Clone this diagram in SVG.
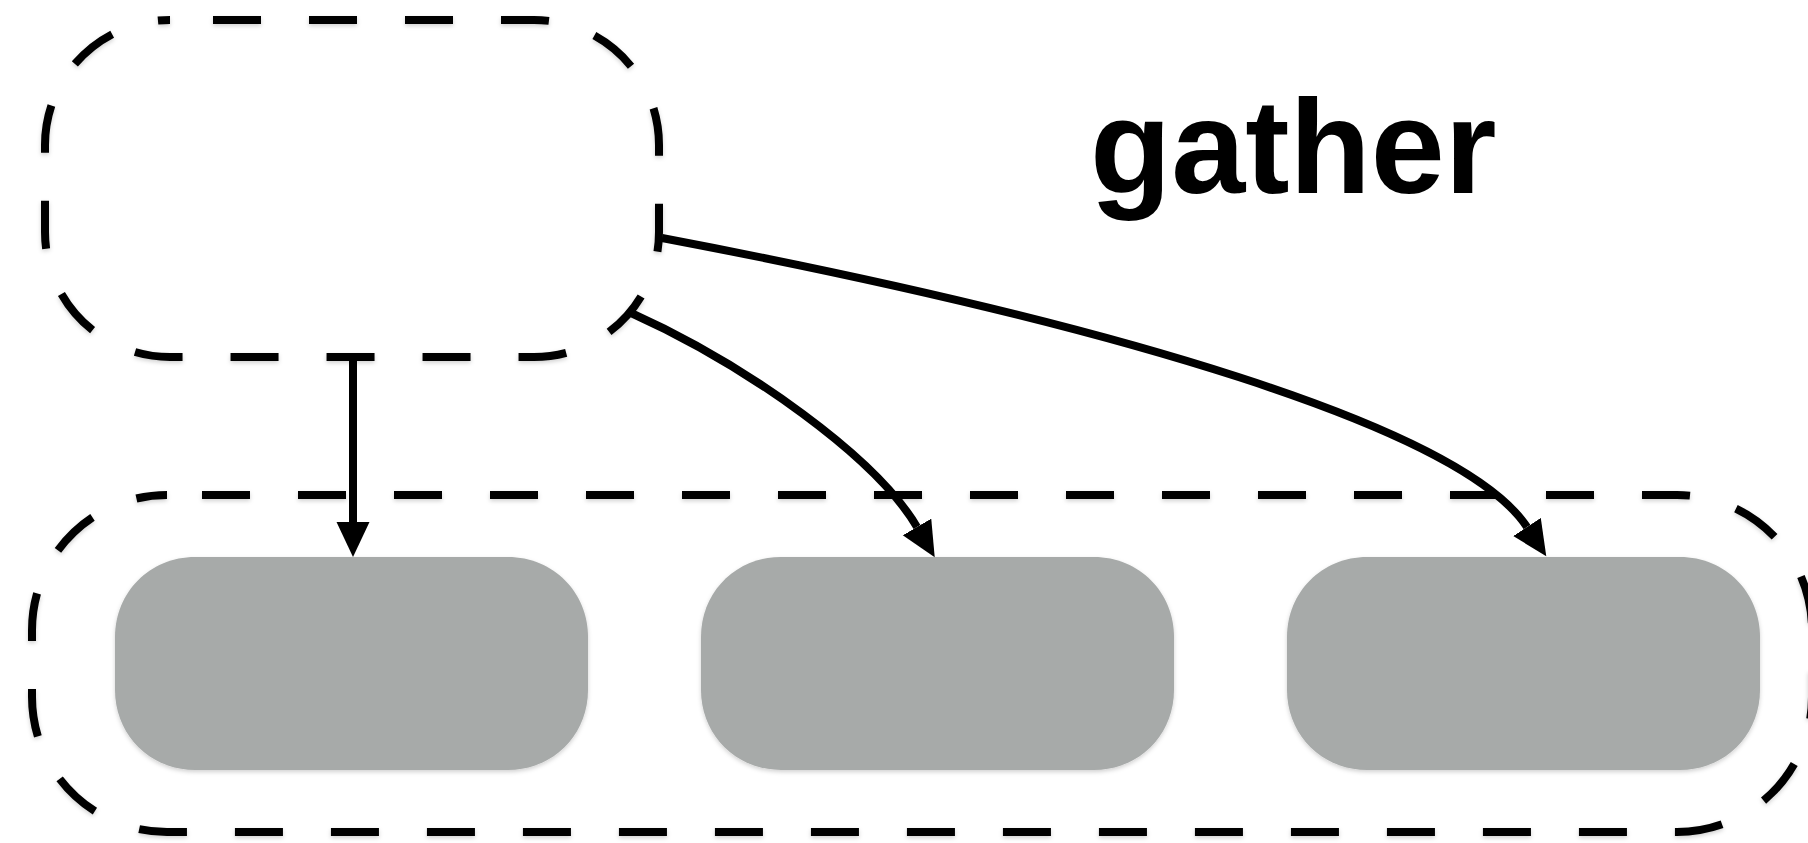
<svg xmlns="http://www.w3.org/2000/svg" width="1808" height="843" viewBox="0 0 1808 843">
  <defs>
    <filter id="shadow" x="-10%" y="-10%" width="120%" height="130%">
      <feDropShadow dx="0" dy="2" stdDeviation="2" flood-color="#000" flood-opacity="0.18"/>
    </filter>
    <marker id="arrow" markerUnits="userSpaceOnUse" markerWidth="36" markerHeight="34" refX="0" refY="16.5" orient="auto" viewBox="0 0 36 34">
      <path d="M0,0 L35,16.5 L0,33 Z" fill="#000"/>
    </marker>
  </defs>
  <style>
    .group { fill: none; stroke: #000; stroke-width: 8; stroke-dasharray: 48 48; filter: url(#shadow); }
    .node { fill: #a7aaa9; filter: url(#shadow); }
    .edge { fill: none; stroke: #000; stroke-width: 8; marker-end: url(#arrow); }
    .label { font-family: "Liberation Sans", Arial, sans-serif; font-weight: bold; font-size: 133px; fill: #000; }
  </style>
  <g id="source-group">
    <rect class="group" x="45" y="20" width="614" height="337" rx="125" ry="125" stroke-dashoffset="53"/>
  </g>
  <g id="target-group">
    <rect class="group" x="32" y="495" width="1780" height="337" rx="135" ry="135" stroke-dashoffset="61"/>
  </g>
  <g id="node-1" transform="translate(115,557)">
    <path class="node" d="M80,0 H393 C438,0 473,35 473,80 V133 C473,178 438,213 393,213 H80 C35,213 0,178 0,133 V80 C0,35 35,0 80,0 Z"/>
  </g>
  <g id="node-2" transform="translate(701,557)">
    <path class="node" d="M80,0 H393 C438,0 473,35 473,80 V133 C473,178 438,213 393,213 H80 C35,213 0,178 0,133 V80 C0,35 35,0 80,0 Z"/>
  </g>
  <g id="node-3" transform="translate(1287,557)">
    <path class="node" d="M80,0 H393 C438,0 473,35 473,80 V133 C473,178 438,213 393,213 H80 C35,213 0,178 0,133 V80 C0,35 35,0 80,0 Z"/>
  </g>
  <g id="label-gather">
    <text class="label" x="1090" y="193">gather</text>
  </g>
  <g id="connectors">
    <path class="edge" d="M353,357 L353,522"/>
    <path class="edge" d="M629,312 C749,366 876.5,458 917,527"/>
    <path class="edge" d="M662,238 C1112,323.5 1461,427 1527,527"/>
  </g>
</svg>
